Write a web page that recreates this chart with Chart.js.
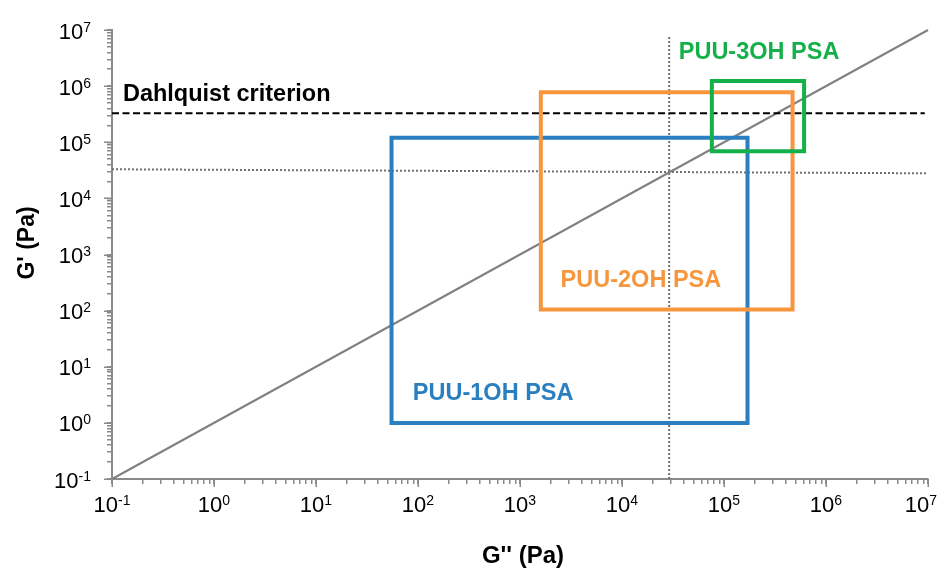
<!DOCTYPE html>
<html>
<head>
<meta charset="utf-8">
<script src="https://cdn.jsdelivr.net/npm/chart.js@4.4.0/dist/chart.umd.min.js"></script>
<style>
  html, body { margin: 0; padding: 0; background: #ffffff; }
  #wrap { width: 938px; height: 568px; }
</style>
</head>
<body>
<div id="wrap"><canvas id="chart" width="938" height="568"></canvas></div>
<script>
// ---- axis decades (tick labels are 10^exponent) ----
const xTickExponents = [-1, 0, 1, 2, 3, 4, 5, 6, 7];
const yTickExponents = [-1, 0, 1, 2, 3, 4, 5, 6, 7];

// ---- reference lines (G'' on x, G' on y, Pa) ----
const parityLoss = [0.1, 1e7];
const parityStorage = [0.1, 1e7];
const dahlquistLoss = [0.1, 9.3e6];
const dahlquistStorage = [3.3e5, 3.3e5];
const guideHLoss = [0.1, 9.6e6];
const guideHStorage = [3.3e4, 2.8e4];
const guideVLoss = [2.9e4, 2.9e4];
const guideVStorage = [0.1, 8e6];

// ---- viscoelastic windows ----
const windowNames = ['PUU-1OH PSA', 'PUU-2OH PSA', 'PUU-3OH PSA'];
const windowLossMin = [55, 1600, 7.6e4];
const windowLossMax = [1.7e5, 4.7e5, 6.1e5];
const windowStorageMin = [1, 1.05e2, 6.9e4];
const windowStorageMax = [1.2e5, 7.8e5, 1.24e6];

const dahlquistText = 'Dahlquist criterion';

// ---- styling / placement ----
const windowColors = ['#2a7fc1', '#f7963d', '#15b04a'];
const windowLabelAt = [ {x: 89, y: 2.56}, {x: 2.5e3, y: 264}, {x: 3.6e4, y: 3.0e6} ];
const dahlquistLabelAt = {x: 0.128, y: 5.4e5};
const AXIS = '#8a8a8a';
const FONT = '"Liberation Sans", Arial, Helvetica, sans-serif';

const pts = (xs, ys) => xs.map((x, i) => ({x: x, y: ys[i]}));
const boxPts = i => [
  {x: windowLossMin[i], y: windowStorageMin[i]},
  {x: windowLossMin[i], y: windowStorageMax[i]},
  {x: windowLossMax[i], y: windowStorageMax[i]},
  {x: windowLossMax[i], y: windowStorageMin[i]},
  {x: windowLossMin[i], y: windowStorageMin[i]}
];

function decadeTicks(exps) {
  const t = [];
  for (let k = 0; k < exps.length - 1; k++) {
    for (let m = 1; m <= 9; m++) t.push({value: m * Math.pow(10, exps[k]), major: m === 1});
  }
  t.push({value: Math.pow(10, exps[exps.length - 1]), major: true});
  return t;
}

const lineDs = (data, color, width, dash, order) => ({
  data: data, showLine: true, pointRadius: 0, borderColor: color, borderWidth: width,
  borderDash: dash, fill: false, tension: 0, order: order, clip: 4
});

const datasets = [
  lineDs(pts(parityLoss, parityStorage), '#808080', 2, [], 10),
  lineDs(pts(guideHLoss, guideHStorage), '#707070', 2, [2, 2], 11),
  lineDs(pts(guideVLoss, guideVStorage), '#707070', 2, [2, 2], 11),
  lineDs(pts(dahlquistLoss, dahlquistStorage), '#000000', 2, [7, 3.5], 9)
];
windowNames.forEach((name, i) => {
  const d = lineDs(boxPts(i), windowColors[i], 4, [], windowNames.length - 1 - i);
  d.label = name;
  d.borderJoinStyle = 'miter';
  d.borderCapStyle = 'square';
  datasets.push(d);
});

function powerLabel(ctx, exp, x, yMid, align, maxRight) {
  const base = '10', sup = String(exp);
  ctx.font = '22px ' + FONT;
  const wb = ctx.measureText(base).width;
  ctx.font = '14px ' + FONT;
  const ws = ctx.measureText(sup).width;
  let left = align === 'center' ? x - (wb + ws) / 2 : x - (wb + ws);
  if (maxRight !== undefined && left + wb + ws > maxRight) left = maxRight - wb - ws;
  ctx.textAlign = 'left';
  ctx.textBaseline = 'alphabetic';
  ctx.fillStyle = '#000000';
  ctx.font = '22px ' + FONT;
  ctx.fillText(base, left, yMid + 8);
  ctx.font = '14px ' + FONT;
  ctx.fillText(sup, left + wb, yMid + 1);
}

const decorations = {
  id: 'decorations',
  afterDraw(chart) {
    const ctx = chart.ctx;
    const xs = chart.scales.x, ys = chart.scales.y;
    const area = chart.chartArea;
    ctx.save();

    // longer marks at each decade
    ctx.strokeStyle = AXIS;
    ctx.lineWidth = 1.5;
    ctx.beginPath();
    xTickExponents.forEach(e => {
      const px = Math.round(xs.getPixelForValue(Math.pow(10, e))) + 0.25;
      ctx.moveTo(px, area.bottom);
      ctx.lineTo(px, area.bottom + 8);
    });
    yTickExponents.forEach(e => {
      const py = Math.round(ys.getPixelForValue(Math.pow(10, e))) + 0.25;
      ctx.moveTo(area.left - 8, py);
      ctx.lineTo(area.left, py);
    });
    ctx.stroke();

    // decade labels
    xTickExponents.forEach(e => {
      powerLabel(ctx, e, xs.getPixelForValue(Math.pow(10, e)), area.bottom + 25, 'center', chart.width - 1);
    });
    yTickExponents.forEach(e => {
      powerLabel(ctx, e, area.left - 21, ys.getPixelForValue(Math.pow(10, e)) + 0.5, 'right');
    });

    // axis titles
    ctx.fillStyle = '#000000';
    ctx.font = 'bold 24px ' + FONT;
    ctx.textAlign = 'center';
    ctx.textBaseline = 'middle';
    ctx.fillText("G'' (Pa)", (area.left + area.right) / 2 + 3, 556);
    ctx.save();
    ctx.translate(28, 243);
    ctx.rotate(-Math.PI / 2);
    ctx.font = 'bold 23px ' + FONT;
    ctx.fillText("G' (Pa)", 0, 0);
    ctx.restore();

    // annotations
    ctx.textAlign = 'left';
    ctx.textBaseline = 'alphabetic';
    ctx.font = 'bold 23.5px ' + FONT;
    ctx.fillStyle = '#000000';
    ctx.fillText(dahlquistText, xs.getPixelForValue(dahlquistLabelAt.x), ys.getPixelForValue(dahlquistLabelAt.y));
    windowNames.forEach((name, i) => {
      ctx.fillStyle = windowColors[i];
      ctx.fillText(name, xs.getPixelForValue(windowLabelAt[i].x), ys.getPixelForValue(windowLabelAt[i].y));
    });
    ctx.restore();
  }
};

const logAxis = (exps, position, fit) => ({
  type: 'logarithmic',
  position: position,
  min: Math.pow(10, exps[0]),
  max: Math.pow(10, exps[exps.length - 1]),
  afterBuildTicks: s => { s.ticks = decadeTicks(exps); },
  afterFit: fit,
  ticks: { display: false, autoSkip: false },
  grid: { drawOnChartArea: false, drawTicks: true, tickLength: 5, color: AXIS, lineWidth: 1.5 },
  border: { display: true, color: AXIS, width: 2 }
});

new Chart(document.getElementById('chart'), {
  type: 'scatter',
  data: { datasets: datasets },
  options: {
    responsive: false,
    animation: false,
    devicePixelRatio: 1,
    layout: { padding: { top: 30, right: 10, left: 0, bottom: 0 } },
    plugins: { legend: { display: false }, tooltip: { enabled: false } },
    scales: {
      x: logAxis(xTickExponents, 'bottom', s => { s.height = 89; }),
      y: logAxis(yTickExponents, 'left', s => { s.width = 112; })
    }
  },
  plugins: [decorations]
});
</script>
</body>
</html>
